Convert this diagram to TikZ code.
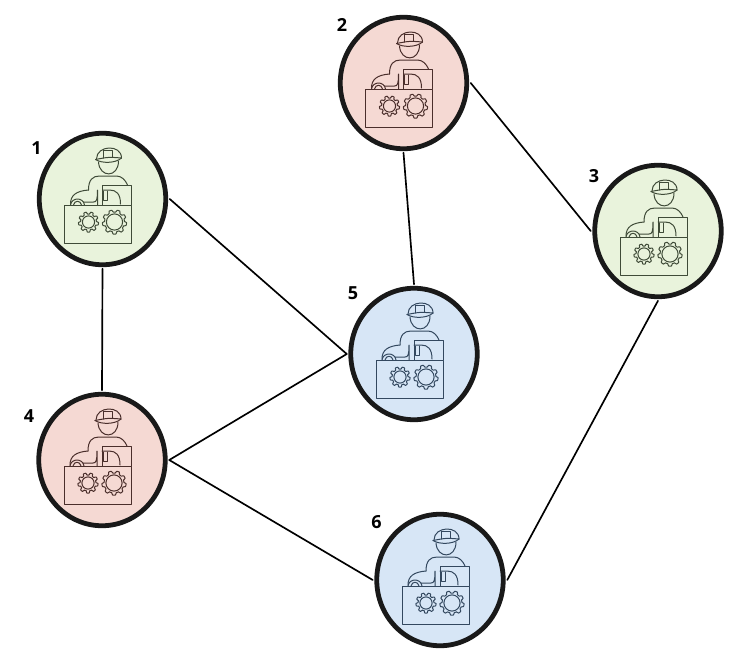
\documentclass[tikz,border=0pt]{standalone}
\usepackage{fontspec}
\setmainfont{Open Sans}
\usetikzlibrary{shapes.geometric}
\definecolor{nodegreen}{HTML}{E9F3DC}
\definecolor{nodered}{HTML}{F5D9D3}
\definecolor{nodeblue}{HTML}{D7E6F6}
\definecolor{inkgreen}{HTML}{3F4B38}
\definecolor{inkred}{HTML}{4A2E2B}
\definecolor{inkblue}{HTML}{33485F}
\newcommand{\gearwheel}[3]{% centre x, centre y, radius
	\draw[samples=289,domain=0:360] plot({#1+(#3+1.1*max(-1,min(1,2*sin(9*\x))))*cos(\x)},{#2+(#3+1.1*max(-1,min(1,2*sin(9*\x))))*sin(\x)}) -- cycle;
	\draw (#1,#2) circle[radius=#3-2.9];
}
\tikzset{
	station/.style={draw=black!90,ellipse,line width=3.6pt,minimum width=126.5pt*0.75,minimum height=131.5pt*0.75,inner sep=0pt,outer sep=3pt},
	numlabel/.style={font=\fontsize{13.5pt}{15pt}\selectfont\bfseries,inner sep=0pt},
	link/.style={line width=1.25pt,color=black},
	worker/.pic={
		% helmet and face
		\draw (-7,-39.5) .. controls (6,-42) .. (19,-41);
		\draw (-7,-39.5) .. controls (-1,-35.5) and (13,-35.5) .. (19,-41);
		\draw (-6,-40) .. controls (-6,-54) and (19,-55) .. (19,-41);
		\draw (1,-41) -- (1,-49) -- (10,-49) -- (10,-42);
		\draw (-4,-37) .. controls (-3,-21) and (16,-21) .. (16,-38);
		% shoulders and vehicle
		\draw (-14,-9) .. controls (-14,-19) and (-10,-23) .. (-3,-23) -- (14,-23) .. controls (19,-23) and (23,-19) .. (25,-14);
		\draw (-32,5) .. controls (-32,-4) and (-26,-8) .. (-14,-9);
		\draw (-19,3) -- (-9,3) .. controls (-6,3) and (-5,1) .. (-5,-9) -- (-5,6);
		\draw (-32,6) .. controls (-31,-2) and (-19,-2) .. (-18,6);
		\draw (-29,6) .. controls (-28,1) and (-22,1) .. (-21,6);
		% box and cab
		\draw (-38,6) rectangle (29,44);
		\draw (0,6) -- (0,-14) -- (29,-14) -- (29,6);
		\draw (0,-9) -- (7,-9) .. controls (14,-9) and (18,-5) .. (18,5);
		\draw (1,-8) -- (1,1.5) -- (5,1.5) -- (5,-8);
		\gearwheel{-14}{23}{9}
		\gearwheel{12}{23}{11}
	}
}
\begin{document}
\begin{tikzpicture}[x=0.75pt,y=-0.75pt,line join=round,line cap=round]
	\useasboundingbox (0,0) rectangle (743,664);
	\foreach \i/\px/\py/\hue in {1/102.5/199/green,2/403.5/83/red,3/658/231/green,4/102/460/red,5/414/354/blue,6/440/580/blue}
	{
		\node[station,fill=node\hue] (n\i) at (\px,\py) {};
		\pic[color=ink\hue,line width=0.75pt] at (\px,\py) {worker};
	}
	\foreach \i/\px/\py in {1/36.5/148,2/342/25,3/594/176,4/29/416,5/353/293,6/376.5/522}
	\node[numlabel] (lab\i) at (\px,\py) {\i};
	\draw[link] (n1.south)--(n4.north);
	\draw[link] (n1.east)--(n5.west);
	\draw[link] (n2.south)--(n5.north);
	\draw[link] (n2.east)--(n3.west);
	\draw[link] (n4.east)--(n5.west);
	\draw[link] (n4.east)--(n6.west);
	\draw[link] (n3.south)--(n6.east);
\end{tikzpicture}
\end{document}
